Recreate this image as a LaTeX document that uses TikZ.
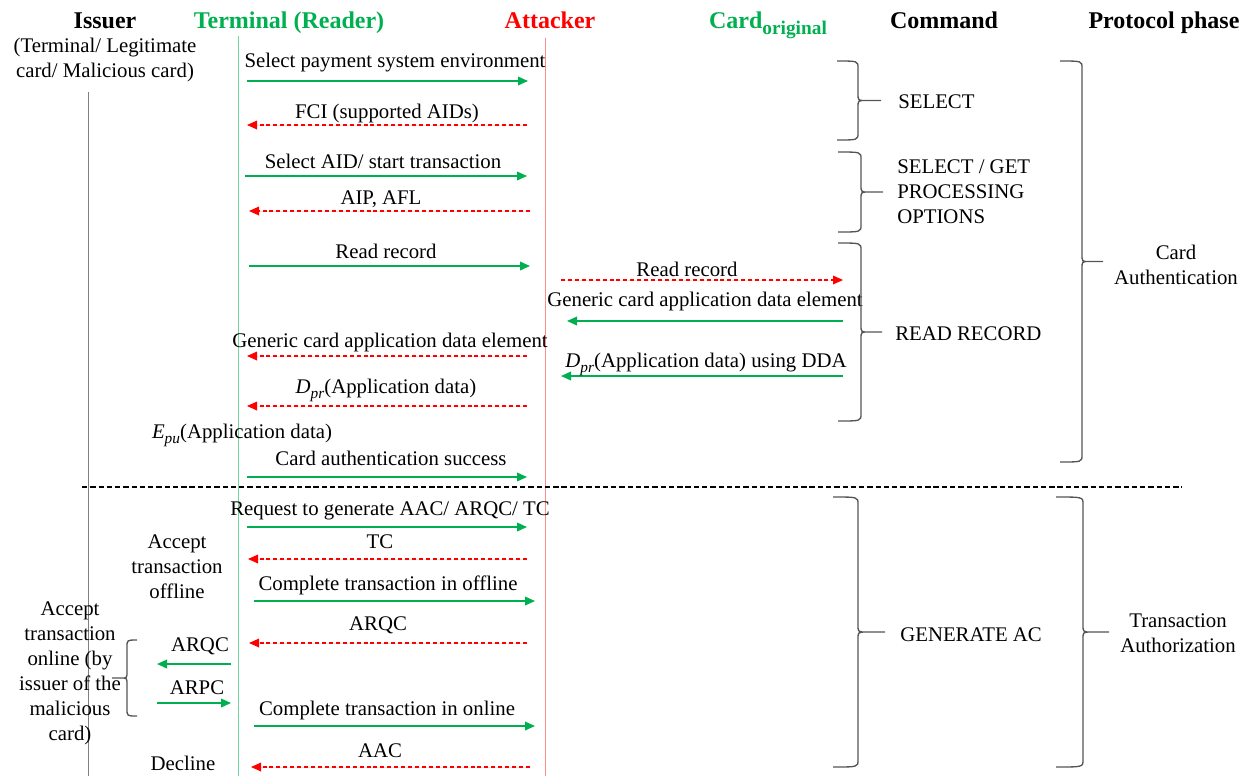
\documentclass[tikz,border=0pt]{standalone}
\usepackage{fontspec}
\setmainfont{Liberation Serif}
\usetikzlibrary{arrows.meta}
\definecolor{tgreen}{RGB}{0,176,80}
\definecolor{tred}{RGB}{255,0,0}
\definecolor{bracegray}{RGB}{85,85,85}
\newcommand{\mybrc}[5]{% x0, xv, xtip, ytop, ybot
  \draw[bracestyle] (#1,#4) .. controls (#2,#4) .. (#2,{#4+7})
    -- (#2,{(#4+#5)/2-7}) .. controls (#2,{(#4+#5)/2}) .. ({#2+(#3-#2)/3},{(#4+#5)/2})
    -- (#3,{(#4+#5)/2})
    (#2,{(#4+#5)/2+7}) .. controls (#2,{(#4+#5)/2}) .. ({#2+(#3-#2)/3},{(#4+#5)/2})
    (#2,{(#4+#5)/2+7}) -- (#2,{#5-7}) .. controls (#2,#5) .. (#1,#5);}
\newcommand{\itsub}[2]{\textit{#1}\raisebox{-0.25em}{\fontsize{11.5}{12}\selectfont\textit{#2}}}
\begin{document}
\begin{tikzpicture}[x=0.75pt,y=-0.75pt,
  lbl/.style={font=\fontsize{15.6}{18.75}\selectfont, inner sep=0pt, anchor=base},
  mlbl/.style={font=\fontsize{15.6}{18.75}\selectfont, inner sep=0pt, align=center},
  hdr/.style={font=\bfseries\fontsize{18}{21}\selectfont, inner sep=0pt, anchor=base},
  msg/.style={line width=1.1pt, -{Triangle[length=7.5pt,width=6.5pt]}},
  gmsg/.style={msg, draw=tgreen, fill=tgreen},
  rmsg/.style={msg, draw=tred, fill=tred, line width=0.9pt, dash pattern=on 3pt off 2.2pt},
  bracestyle/.style={draw=bracegray, line width=1pt},
  life/.style={line width=0.7pt}]
\useasboundingbox (0,0) rectangle (1249,776);

% headers
\node[hdr] (hIssuer) at (105,28) {Issuer};
\node[hdr, text=tgreen] (hTerm) at (289,28) {Terminal (Reader)};
\node[hdr, text=tred] (hAtt) at (550,28) {Attacker};
\node[hdr, text=tgreen] (hCard) at (768,28) {Card\raisebox{-4.5pt}{\fontsize{14.5}{15}\selectfont original}};
\node[hdr] (hCmd) at (944,28) {Command};
\node[hdr] (hPhase) at (1164,28) {Protocol phase};
\node[mlbl] (hSub) at (105,60) {(Terminal/ Legitimate\\card/ Malicious card)};

% lifelines
\coordinate (iTop) at (88,92);   \coordinate (iBot) at (88,776);
\coordinate (tTop) at (238,36);  \coordinate (tBot) at (238,776);
\coordinate (aTop) at (545,38);  \coordinate (aBot) at (545,776);
\draw[life, draw=gray] (iTop) -- (iBot);
\draw[life, draw=tgreen!55] (tTop) -- (tBot);
\draw[life, draw=tred!45] (aTop) -- (aBot);

% separator
\coordinate (sepL) at (82,487); \coordinate (sepR) at (1182,487);
\draw[line width=1.5pt, dash pattern=on 4pt off 2.2pt] (sepL) -- (sepR);

% messages
\coordinate (a1s) at (247,81);  \coordinate (a1e) at (528,81);
\coordinate (a2s) at (527,125); \coordinate (a2e) at (247,125);
\coordinate (a3s) at (245,176); \coordinate (a3e) at (527,176);
\coordinate (a4s) at (530,211); \coordinate (a4e) at (249,211);
\coordinate (a5s) at (249,266); \coordinate (a5e) at (530,266);
\coordinate (a6s) at (561,280); \coordinate (a6e) at (843,280);
\coordinate (a7s) at (843,321); \coordinate (a7e) at (567,321);
\coordinate (a8s) at (527,356); \coordinate (a8e) at (247,356);
\coordinate (a9s) at (843,376); \coordinate (a9e) at (561,376);
\coordinate (a10s) at (527,406); \coordinate (a10e) at (247,406);
\coordinate (a12s) at (247,477); \coordinate (a12e) at (527,477);
\coordinate (a13s) at (247,527); \coordinate (a13e) at (527,527);
\coordinate (a14s) at (527,559); \coordinate (a14e) at (248,559);
\coordinate (a15s) at (254,601); \coordinate (a15e) at (535,601);
\coordinate (a16s) at (527,643); \coordinate (a16e) at (249,643);
\coordinate (a17s) at (231,664); \coordinate (a17e) at (157,664);
\coordinate (a18s) at (157,703); \coordinate (a18e) at (231,703);
\coordinate (a19s) at (254,726); \coordinate (a19e) at (535,726);
\coordinate (a20s) at (530,767); \coordinate (a20e) at (251,767);

\draw[gmsg] (a1s) -- (a1e);
\draw[rmsg] (a2s) -- (a2e);
\draw[gmsg] (a3s) -- (a3e);
\draw[rmsg] (a4s) -- (a4e);
\draw[gmsg] (a5s) -- (a5e);
\draw[rmsg] (a6s) -- (a6e);
\draw[gmsg] (a7s) -- (a7e);
\draw[rmsg] (a8s) -- (a8e);
\draw[gmsg] (a9s) -- (a9e);
\draw[rmsg] (a10s) -- (a10e);
\draw[gmsg] (a12s) -- (a12e);
\draw[gmsg] (a13s) -- (a13e);
\draw[rmsg] (a14s) -- (a14e);
\draw[gmsg] (a15s) -- (a15e);
\draw[rmsg] (a16s) -- (a16e);
\draw[gmsg] (a17s) -- (a17e);
\draw[gmsg] (a18s) -- (a18e);
\draw[gmsg] (a19s) -- (a19e);
\draw[rmsg] (a20s) -- (a20e);

% message labels
\node[lbl] (l1) at (395,67) {Select payment system environment};
\node[lbl] (l2) at (387,118) {FCI (supported AIDs)};
\node[lbl] (l3) at (383,168) {Select AID/ start transaction};
\node[lbl] (l4) at (381,204) {AIP, AFL};
\node[lbl] (l5) at (386,258) {Read record};
\node[lbl] (l6) at (687,276) {Read record};
\node[lbl] (l7) at (705,306) {Generic card application data element};
\node[lbl] (l8) at (390,347) {Generic card application data element};
\node[lbl] (l9) at (706,367) {\itsub{D}{pr}(Application data) using DDA};
\node[lbl] (l10) at (386,393) {\itsub{D}{pr}(Application data)};
\node[lbl] (l11) at (242,438) {\itsub{E}{pu}(Application data)};
\node[lbl] (l12) at (391,465) {Card authentication success};
\node[lbl] (l13) at (390,515) {Request to generate AAC/ ARQC/ TC};
\node[lbl] (l14) at (380,548) {TC};
\node[lbl] (l15) at (388,590) {Complete transaction in offline};
\node[lbl] (l16) at (378,630) {ARQC};
\node[lbl] (l17) at (200,651) {ARQC};
\node[lbl] (l18) at (197,694) {ARPC};
\node[lbl] (l19) at (387,715) {Complete transaction in online};
\node[lbl] (l20) at (380,757) {AAC};

% outcome labels
\node[mlbl] (acOff) at (177,567) {Accept\\transaction\\offline};
\node[mlbl] (acOn) at (70,673) {Accept\\transaction\\online (by\\issuer of the\\malicious\\card)};
\node[lbl] (decl) at (183,770) {Decline};

% braces
\mybrc{837}{858}{881}{61}{140}
\mybrc{838}{861}{883}{152}{232}
\mybrc{838}{861}{882}{243}{421}
\mybrc{1060}{1082}{1103}{61}{462}
\mybrc{833}{858}{885}{497}{767}
\mybrc{1056}{1083}{1109}{497}{767}
\mybrc{137}{127}{112}{640}{716}

% command and phase labels
\node[lbl, anchor=base west] (cSel) at (898,108) {SELECT};
\node[mlbl, anchor=west, align=left] (cGpo) at (897,192) {SELECT / GET\\PROCESSING\\OPTIONS};
\node[lbl, anchor=base west] (cRR) at (895,340) {READ RECORD};
\node[lbl, anchor=base west] (cGen) at (900,641) {GENERATE AC};
\node[mlbl] (pCA) at (1176,265) {Card\\Authentication};
\node[mlbl] (pTA) at (1178,633) {Transaction\\Authorization};
\end{tikzpicture}
\end{document}
